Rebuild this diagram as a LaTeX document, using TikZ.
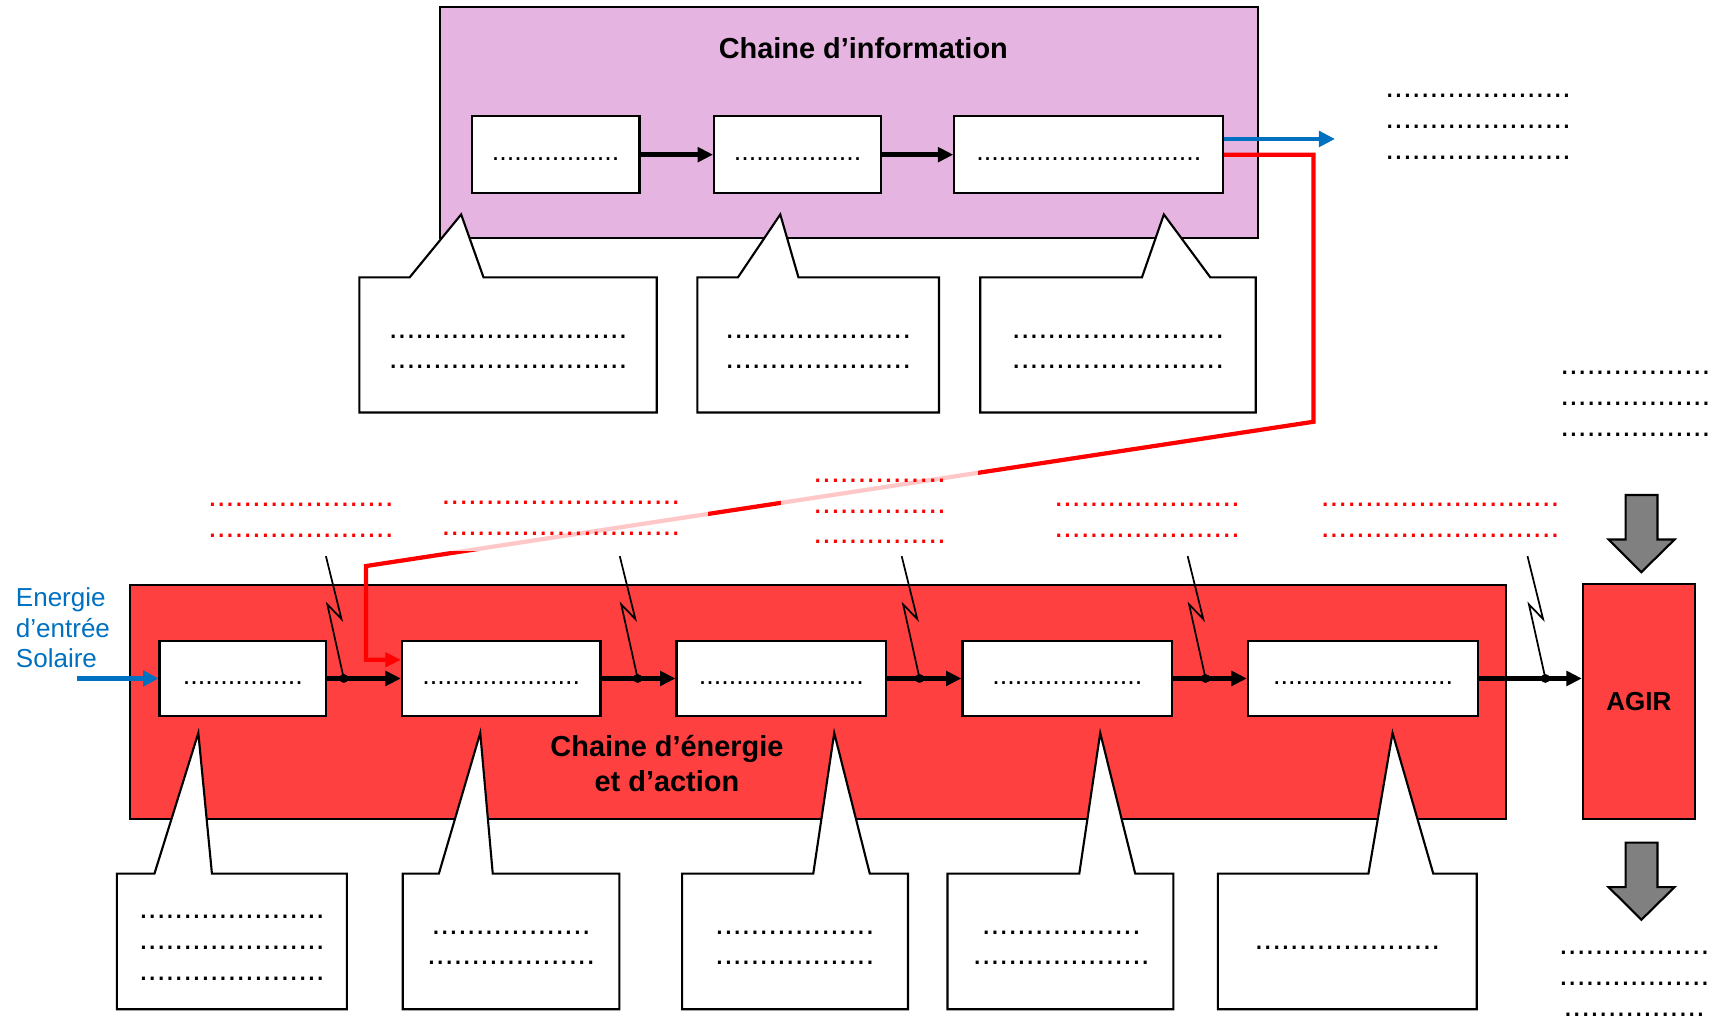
\documentclass[tikz,border=0pt]{standalone}
\usepackage{fontspec}
\setmainfont{Liberation Sans}
\usetikzlibrary{arrows.meta,calc}

\definecolor{infopink}{RGB}{230,180,225}
\definecolor{energyred}{RGB}{255,64,64}
\definecolor{solarblue}{RGB}{0,112,192}

\newcommand{\pts}[1]{\foreach\k in {1,...,#1}{.}}

\tikzset{
  chainbox/.style={draw, line width=1.1pt},
  blk/.style={draw, fill=white, line width=1.1pt, inner sep=0pt, font=\fontsize{14}{16}\selectfont},
  bubble/.style={draw, fill=white, line width=1.1pt, line join=miter},
  dotlbl/.style={inner sep=0pt, align=center, font=\fontsize{16.5}{16}\selectfont},
  redlbl/.style={dotlbl, text=red, fill=white, fill opacity=0.78, text opacity=1},
  flow/.style={-{Triangle[length=8pt,width=7.5pt]}, line width=3pt},
  zap/.style={line width=0.9pt},
  titletext/.style={font=\fontsize{15}{18}\selectfont\bfseries, align=center},
}

\begin{document}
\begin{tikzpicture}[x=0.02cm, y=-0.02cm]
\useasboundingbox (0,0) rectangle (1568,932);

% chaine d'information
\node[chainbox, fill=infopink, minimum width=14.92cm, minimum height=4.22cm] (chinfo) at (774,111.5) {};
\node[titletext] (tinfo) at (787,44) {Chaine d’information};
\node[blk, minimum width=3.06cm, minimum height=1.4cm] (ib1) at (506.5,141) {\strut\pts{17}};
\node[blk, minimum width=3.04cm, minimum height=1.4cm] (ib2) at (727,141) {\strut\pts{17}};
\node[blk, minimum width=4.9cm, minimum height=1.4cm] (ib3) at (992.5,141) {\strut\pts{30}};
\draw[flow, line width=2.4pt] (ib1) -- (ib2);
\draw[flow, line width=2.4pt] (ib2) -- (ib3);

\foreach \l/\a/\t/\b/\r in {327.6/373.4/420.4/440.8/598.7, 635.7/672.7/711.3/727.9/856, 893.6/1041/1061/1103.4/1144.8}
  \draw[bubble] (\l,252.9) -- (\a,252.9) -- (\t,195.5) -- (\b,252.9) -- (\r,252.9) -- (\r,376) -- (\l,376) -- cycle;
\node[dotlbl] (c1) at (463.2,316.6) {\strut\pts{27}\\ \strut\pts{27}};
\node[dotlbl] (c2) at (745.9,316.6) {\strut\pts{21}\\ \strut\pts{21}};
\node[dotlbl] (c3) at (1019.2,316.6) {\strut\pts{24}\\ \strut\pts{24}};

\coordinate (infoout) at (1217,126.7);
\draw[solarblue, line width=2pt, -{Triangle[length=8.3pt,width=8pt]}] ($(ib3.east)+(0,-14.3)$) -- (infoout);
\node[dotlbl, align=left, anchor=west] (rt) at (1262.6,111.7) {\strut\pts{21}\\ \strut\pts{21}\\ \strut\pts{21}};

% chaine d'energie
\node[chainbox, fill=energyred, minimum width=25.1cm, minimum height=4.27cm] (chen) at (745.5,639.8) {};
\node[titletext] (ten) at (608,696) {Chaine d’énergie\\et d’action};
\node[chainbox, fill=energyred, minimum width=2.04cm, minimum height=4.28cm, font=\fontsize{13.5}{16}\selectfont\bfseries] (agir) at (1494,639.7) {AGIR};

\node[blk, minimum width=3.04cm, minimum height=1.38cm] (eb1) at (221.4,618.5) {\strut\pts{16}};
\node[blk, minimum width=3.62cm, minimum height=1.38cm] (eb2) at (456.9,618.5) {\strut\pts{21}};
\node[blk, minimum width=3.82cm, minimum height=1.38cm] (eb3) at (712.2,618.5) {\strut\pts{22}};
\node[blk, minimum width=3.82cm, minimum height=1.38cm] (eb4) at (972.9,618.5) {\strut\pts{20}};
\node[blk, minimum width=4.2cm, minimum height=1.38cm] (eb5) at (1242.6,618.5) {\strut\pts{24}};

% ordre : ligne rouge puis etiquettes
\draw[red, line width=2.2pt, -{Triangle[length=8pt,width=7.3pt]}] (ib3.east) -| (1197.3,384.5) -- (333.7,516) |- ($(eb2.west)+(0,-17)$);
\node[redlbl] (ra) at (274.2,469.9) {\strut\pts{21}\\ \strut\pts{21}};
\node[redlbl, minimum width=5.35cm, minimum height=1.33cm] (rb) at (511.3,468.7) {\strut\pts{27}\\ \strut\pts{27}};
\node[redlbl, minimum width=3.6cm] (rc) at (801.9,462.1) {\strut\pts{15}\\ \strut\pts{15}\\ \strut\pts{15}};
\node[redlbl] (rd) at (1045.7,470.4) {\strut\pts{21}\\ \strut\pts{21}};
\node[redlbl] (re) at (1312.8,469.9) {\strut\pts{27}\\ \strut\pts{27}};

\coordinate (solin) at (70,618.5);
\draw[solarblue, line width=2.6pt, -{Triangle[length=8pt,width=8pt]}] (solin) -- (eb1.west);
\node[solarblue, font=\fontsize{13.5}{15.9}\selectfont, align=left, anchor=west, inner sep=0pt] (solar) at (14.2,572.5) {Energie\\d’entrée\\Solaire};

\draw[flow] (eb1) -- (eb2);
\draw[flow] (eb2) -- (eb3);
\draw[flow] (eb3) -- (eb4);
\draw[flow] (eb4) -- (eb5);
\draw[flow] (eb5.east) -- (eb5.east -| agir.west);
\foreach \x in {297.1,565,822,1082.7,1392.5} {
  \draw[zap] (\x,507) -- ++(14.2,57.3) -- ++(-12.9,-13.3) -- ++(15,67.5);
  \fill (\x+16.3,618.5) circle[radius=2.3pt];
}

\foreach \l/\a/\t/\b/\r in {106.5/140.8/180.8/193.2/316.2, 367.2/400.1/437.8/449.2/564.6, 621.8/741.4/760.5/792.9/827.7, 863.8/983.9/1003/1034.9/1069.7, 1110.2/1247.5/1269.5/1306.6/1346.2}
  \draw[bubble] (\l,796.4) -- (\a,796.4) -- (\t,668.2) -- (\b,796.4) -- (\r,796.4) -- (\r,920.1) -- (\l,920.1) -- cycle;
\node[dotlbl] (d1) at (211.4,860) {\strut\pts{21}\\ \strut\pts{21}\\ \strut\pts{21}};
\node[dotlbl] (d2) at (465.9,860) {\strut\pts{18}\\ \strut\pts{19}};
\node[dotlbl] (d3) at (724.5,860) {\strut\pts{18}\\ \strut\pts{18}};
\node[dotlbl] (d4) at (967.5,860) {\strut\pts{18}\\ \strut\pts{20}};
\node[dotlbl] (d5) at (1228.3,859.8) {\strut\pts{21}};

% fleches grises
\foreach \y in {451.3,768.2}
  \draw[fill=gray, line width=1.1pt] (1482,\y) -- (1511,\y) -- (1511,\y+40.5) -- (1526.6,\y+40.5) -- (1496.3,\y+70.3) -- (1466.4,\y+40.5) -- (1482,\y+40.5) -- cycle;
\node[dotlbl, align=left, anchor=west] (rm) at (1422,364) {\strut\pts{17}\\ \strut\pts{17}\\ \strut\pts{17}};
\node[dotlbl, anchor=west] (rbt) at (1421,892.7) {\strut\pts{17}\\ \strut\pts{17}\\ \strut\pts{16}};
\end{tikzpicture}
\end{document}
